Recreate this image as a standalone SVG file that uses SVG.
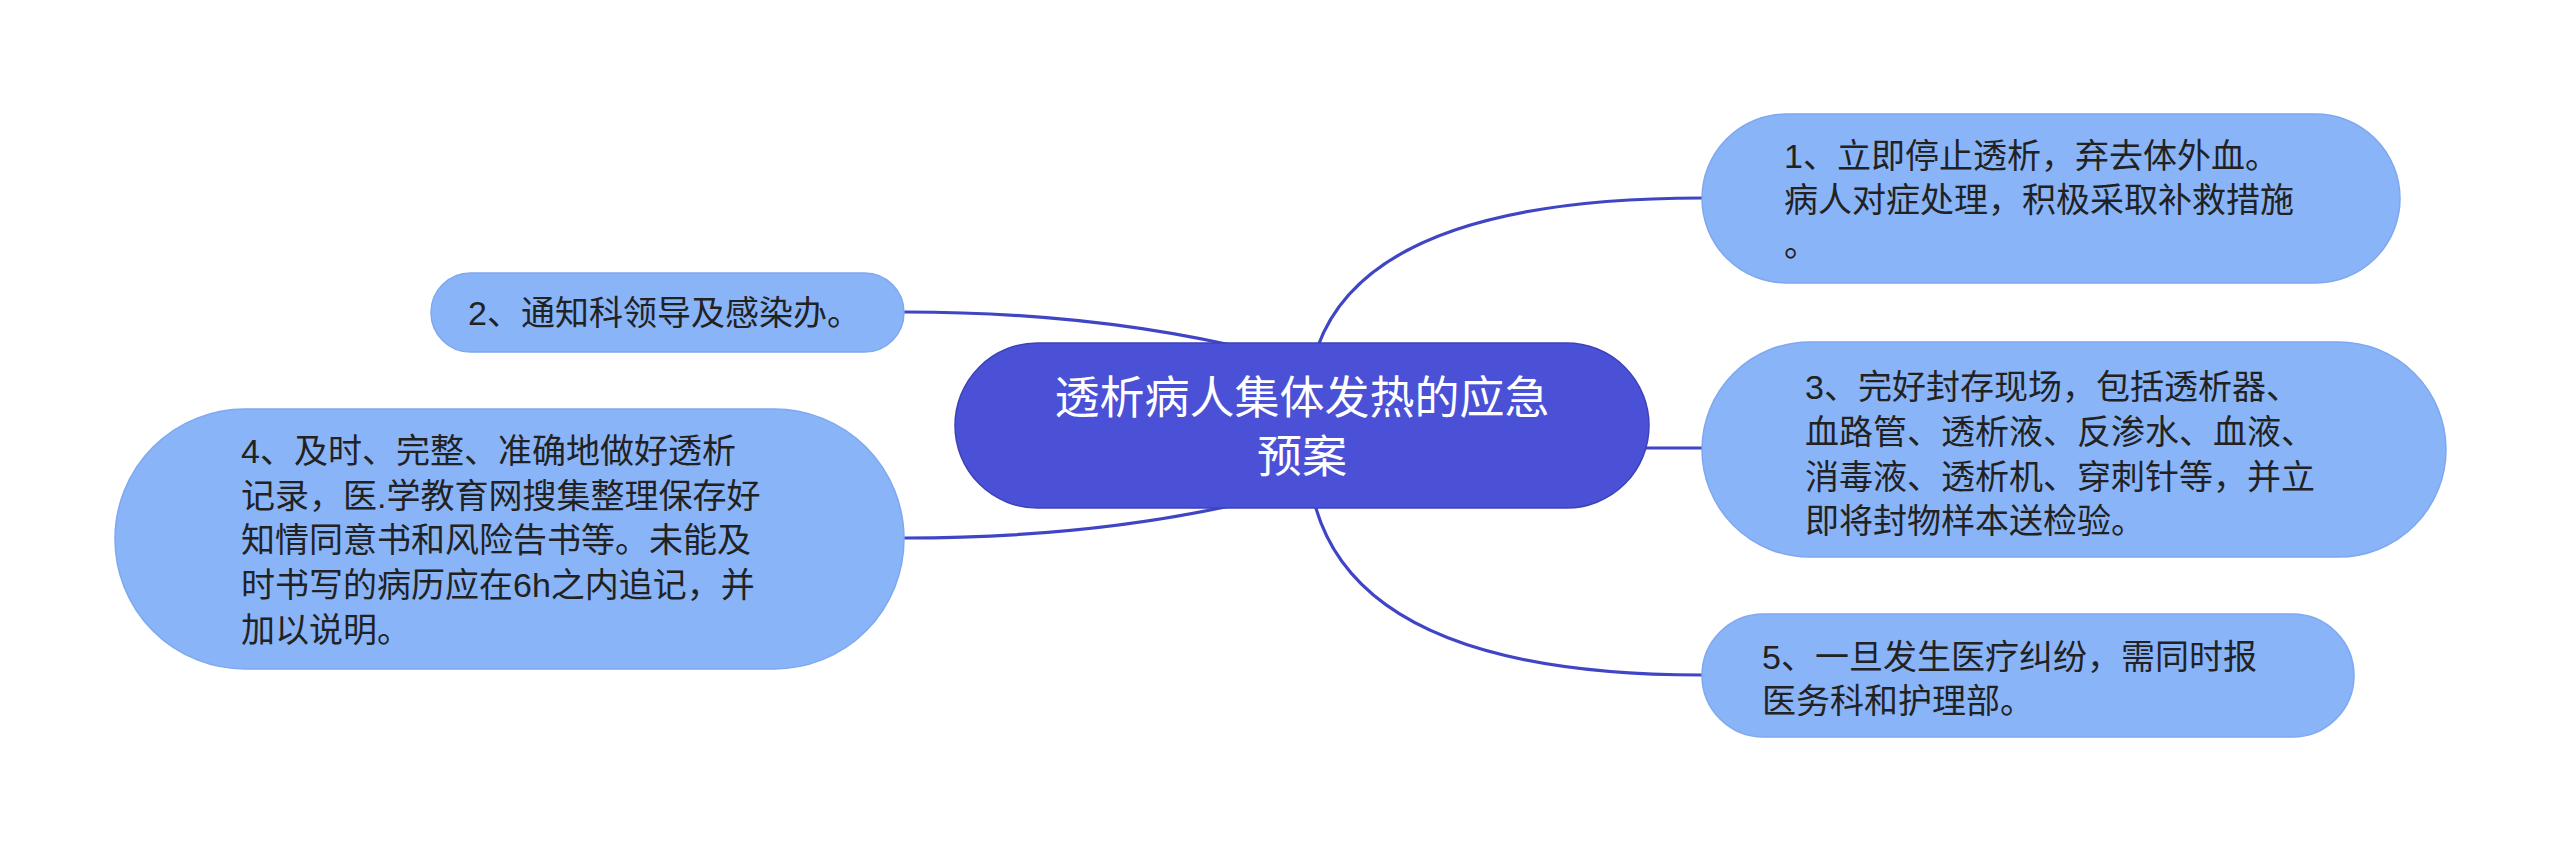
<svg xmlns="http://www.w3.org/2000/svg" width="2560" height="852" viewBox="0 0 2560 852">
<style>
.bg{fill:#ffffff}
.conn{fill:none;stroke:#3f45c4;stroke-width:3.2;stroke-linecap:round}
.root{fill:#4a51d6;stroke:#3d42b8;stroke-width:1.5}
.leaf{fill:#8ab4f8;stroke:#7ea8ef;stroke-width:1.5}
.t{font-family:'Liberation Sans','Noto Sans CJK SC',sans-serif;dominant-baseline:central}
.rt{fill:#ffffff;font-size:45px;text-anchor:middle}
.lt{fill:#222222;font-size:34px}
</style>
<rect class="bg" x="0" y="0" width="2560" height="852"/>
<g id="connectors">
<path class="conn" d="M1318,346 Q1372,198 1702,198"/>
<path class="conn" d="M1645,448 L1702,448"/>
<path class="conn" d="M1315,505 Q1362,675 1702,675"/>
<path class="conn" d="M905,312 Q1100,312 1260,352"/>
<path class="conn" d="M905,538 Q1100,538 1260,499"/>
</g>
<g id="root">
<rect class="root" x="955" y="343" width="694" height="165" rx="82.5" ry="82.5"/>
<text class="t rt" x="1302" y="398">透析病人集体发热的应急</text>
<text class="t rt" x="1302" y="457">预案</text>
</g>
<g id="node1">
<rect class="leaf" x="1702" y="114" width="698" height="169" rx="84.5" ry="84.5"/>
<text class="t lt" x="1784" y="156">1、立即停止透析，弃去体外血。</text>
<text class="t lt" x="1784" y="200">病人对症处理，积极采取补救措施</text>
<text class="t lt" x="1784" y="244">。</text>
</g>
<g id="node2">
<rect class="leaf" x="431" y="273" width="473" height="79" rx="39.5" ry="39.5"/>
<text class="t lt" x="468" y="313">2、通知科领导及感染办。</text>
</g>
<g id="node3">
<rect class="leaf" x="1702" y="342" width="744" height="215" rx="107.5" ry="107.5"/>
<text class="t lt" x="1805" y="387">3、完好封存现场，包括透析器、</text>
<text class="t lt" x="1805" y="432">血路管、透析液、反渗水、血液、</text>
<text class="t lt" x="1805" y="477">消毒液、透析机、穿刺针等，并立</text>
<text class="t lt" x="1805" y="521">即将封物样本送检验。</text>
</g>
<g id="node4">
<rect class="leaf" x="115" y="409" width="789" height="260" rx="130" ry="130"/>
<text class="t lt" x="241" y="451">4、及时、完整、准确地做好透析</text>
<text class="t lt" x="241" y="496">记录，医.学教育网搜集整理保存好</text>
<text class="t lt" x="241" y="540">知情同意书和风险告书等。未能及</text>
<text class="t lt" x="241" y="585">时书写的病历应在6h之内追记，并</text>
<text class="t lt" x="241" y="630">加以说明。</text>
</g>
<g id="node5">
<rect class="leaf" x="1702" y="614" width="652" height="123" rx="61.5" ry="61.5"/>
<text class="t lt" x="1762" y="657">5、一旦发生医疗纠纷，需同时报</text>
<text class="t lt" x="1762" y="701">医务科和护理部。</text>
</g>
</svg>
